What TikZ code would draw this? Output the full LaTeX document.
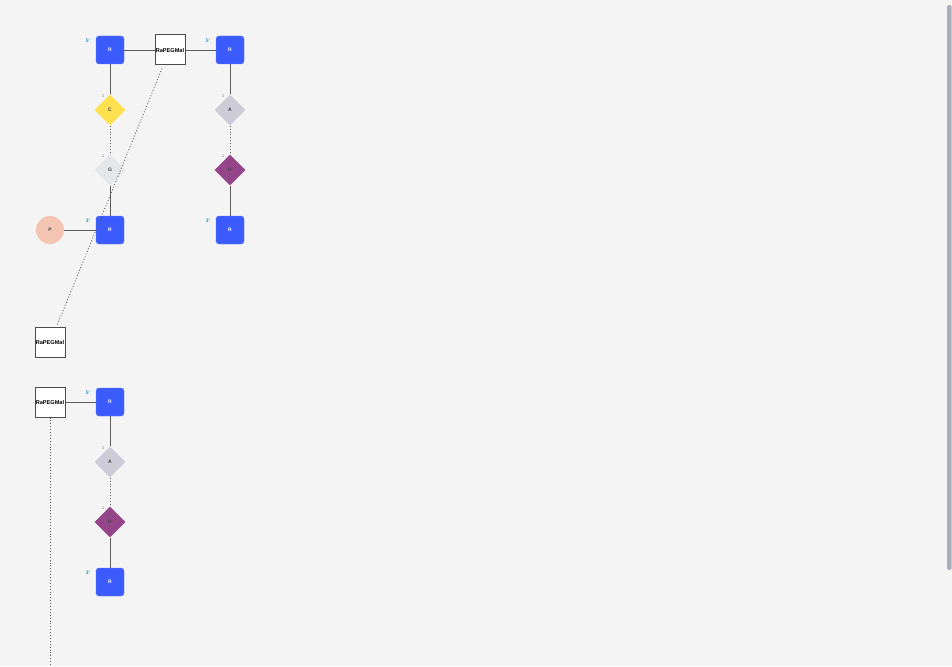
\documentclass[tikz,border=0pt]{standalone}
\usepackage{fontspec}
\setmainfont{Liberation Sans}
\usetikzlibrary{positioning,shapes.geometric}

\definecolor{bgcol}{HTML}{F4F4F4}
\definecolor{rblue}{HTML}{3B5BFD}
\definecolor{cyell}{HTML}{FFE14F}
\definecolor{ggray}{HTML}{E3E6EB}
\definecolor{alil}{HTML}{CDCBD7}
\definecolor{upurp}{HTML}{954589}
\definecolor{ppink}{HTML}{F3C4B1}
\definecolor{linkcol}{HTML}{5A5A5A}
\definecolor{endcol}{HTML}{2A9DB5}
\definecolor{barcol}{HTML}{A7B0BA}

\begin{document}
\begin{tikzpicture}[x=1pt,y=-1pt,
    sugar/.style={draw=rblue!80, fill=rblue, rounded corners=3pt, minimum size=28pt,
      inner sep=0pt, text=white, font=\fontsize{5}{5}\selectfont\bfseries},
    base/.style={diamond, fill=#1, minimum size=31pt, inner sep=0pt,
      font=\fontsize{5}{5}\selectfont\bfseries, text=black!75},
    phos/.style={circle, fill=ppink, minimum size=28pt, inner sep=0pt,
      font=\fontsize{5}{5}\selectfont\bfseries, text=black!70},
    mod/.style={draw=black!70, line width=1pt, fill=white!97!bgcol, minimum size=30pt,
      inner sep=0pt, font=\fontsize{5.6}{5}\selectfont\bfseries},
    bond/.style={draw=linkcol, line width=0.9pt},
    pair/.style={draw=linkcol, line width=0.9pt, dotted},
    endlbl/.style={text=endcol, font=\fontsize{5}{5}\selectfont\bfseries},
    poslbl/.style={text=black!45, font=\fontsize{4.5}{5}\selectfont}]

  % ---- background ----
  \fill[bgcol] (0,0) rectangle (952,666);
  \useasboundingbox (0,0) rectangle (952,666);
  \fill[barcol, rounded corners=1.5pt] (947,5) rectangle (951.5,570);

  % ---- first strand pair ----
  \begin{scope}
    \node[sugar] (r1) at (110,50) {R};
    \node[mod] (m1) at (170,50) {RaPEGMal};
    \node[sugar] (r2) at (230,50) {R};
    \node[base=cyell] (c1) at (110,110) {C};
    \node[base=ggray] (g1) at (110,170) {G};
    \node[sugar] (r3) at (110,230) {R};
    \node[phos] (p1) at (50,230) {P};
    \node[base=alil] (a1) at (230,110) {A};
    \node[base=upurp] (u1) at (230,170) {U};
    \node[sugar] (r4) at (230,230) {R};
    \draw[bond] (r1) -- (m1);
    \draw[bond] (m1) -- (r2);
    \draw[bond] (r1) -- (c1);
    \draw[pair] (c1) -- (g1);
    \draw[bond] (g1) -- (r3);
    \draw[bond] (p1) -- (r3);
    \draw[bond] (r2) -- (a1);
    \draw[pair] (a1) -- (u1);
    \draw[bond] (u1) -- (r4);
    \node[endlbl] at (88,41) {5'};
    \node[endlbl] at (208,41) {5'};
    \node[endlbl] at (88,221) {3'};
    \node[endlbl] at (208,221) {3'};
    \node[poslbl] at (103,96) {1};
    \node[poslbl] at (103,156) {1};
    \node[poslbl] at (223,96) {1};
    \node[poslbl] at (223,156) {1};
  \end{scope}

  % ---- modifier link ----
  \node[mod] (m2) at (50,342) {RaPEGMal};
  \coordinate (m1s) at ([xshift=-8pt,yshift=-3pt]m1.south);
  \coordinate (m2n) at ([xshift=7pt,yshift=1pt]m2.north);
  \draw[pair] (m1s) -- (m2n);

  % ---- second strand ----
  \begin{scope}
    \node[mod] (m3) at (50,402) {RaPEGMal};
    \node[sugar] (r5) at (110,402) {R};
    \node[base=alil] (a2) at (110,462) {A};
    \node[base=upurp] (u2) at (110,522) {U};
    \node[sugar] (r6) at (110,582) {R};
    \coordinate (tail) at (50,666);
    \draw[bond] (m3) -- (r5);
    \draw[bond] (r5) -- (a2);
    \draw[pair] (a2) -- (u2);
    \draw[bond] (u2) -- (r6);
    \draw[pair] (m3) -- (tail);
    \node[endlbl] at (88,393) {5'};
    \node[endlbl] at (88,573) {3'};
    \node[poslbl] at (103,448) {1};
    \node[poslbl] at (103,508) {1};
  \end{scope}
\end{tikzpicture}
\end{document}
